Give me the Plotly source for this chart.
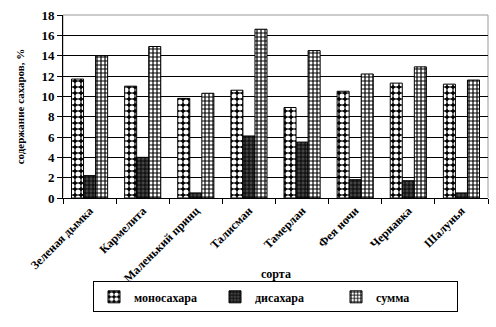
import plotly.graph_objects as go

categories = ["Зеленая дымка", "Кармелита", "Маленький принц", "Талисман",
              "Тамерлан", "Фея ночи", "Чернавка", "Шалунья"]
mono = [11.7, 11.0, 9.8, 10.6, 8.9, 10.5, 11.3, 11.2]
disac = [2.2, 4.0, 0.5, 6.1, 5.5, 1.8, 1.7, 0.5]
summa = [14.0, 14.9, 10.3, 16.6, 14.5, 12.2, 12.9, 11.6]
series_names = ["моносахара", "дисахара", "сумма"]

FONT = "Liberation Serif"

fig = go.Figure()
fig.add_trace(go.Bar(
    x=categories, y=mono, name=series_names[0],
    marker=dict(color="black", line=dict(color="black", width=1),
                pattern=dict(shape=".", fgcolor="white", bgcolor="black",
                             size=6, solidity=0.55, fillmode="replace")),
))
fig.add_trace(go.Bar(
    x=categories, y=disac, name=series_names[1],
    marker=dict(color="#444444", line=dict(color="black", width=1),
                pattern=dict(shape="+", fgcolor="black", bgcolor="#444444",
                             size=4, solidity=0.4, fillmode="replace")),
))
fig.add_trace(go.Bar(
    x=categories, y=summa, name=series_names[2],
    marker=dict(color="white", line=dict(color="black", width=1),
                pattern=dict(shape="+", fgcolor="black", bgcolor="white",
                             size=4, solidity=0.5, fillmode="replace")),
))

fig.update_layout(
    width=496, height=327,
    margin=dict(l=63, r=8, t=9, b=129),
    paper_bgcolor="white", plot_bgcolor="white",
    barmode="group", bargap=0.32, bargroupgap=0,
    font=dict(family=FONT, size=11, color="black"),
    showlegend=True,
    legend=dict(orientation="h", x=0.5, xanchor="center", y=-0.54, yanchor="middle",
                bordercolor="black", borderwidth=1,
                font=dict(family=FONT, size=12, color="black", weight="bold"),
                itemwidth=30, entrywidthmode="pixels", entrywidth=76),
    xaxis=dict(showline=True, linecolor="black", linewidth=1, mirror=False,
               ticks="outside", ticklen=5, tickcolor="black", tickson="boundaries",
               tickangle=-45, tickfont=dict(family=FONT, size=12, weight="bold"),
               showgrid=False),
    yaxis=dict(range=[0, 18], dtick=2, showline=True, linecolor="black", linewidth=1,
               ticks="outside", ticklen=5, tickcolor="black",
               showgrid=True, gridcolor="black", gridwidth=1,
               tickfont=dict(family=FONT, size=13, weight="bold"),
               title=dict(text="содержание сахаров, %", standoff=14,
                          font=dict(family=FONT, size=11, weight="bold"))),
    shapes=[dict(type="rect", xref="paper", yref="paper", x0=0, x1=1, y0=0, y1=1,
                 line=dict(color="#999999", width=1), layer="below")],
    annotations=[dict(text="сорта", xref="paper", yref="paper", x=0.5, y=-0.418,
                      xanchor="center", yanchor="middle", showarrow=False,
                      font=dict(family=FONT, size=12, weight="bold"))],
)

fig.write_html("out.html")
